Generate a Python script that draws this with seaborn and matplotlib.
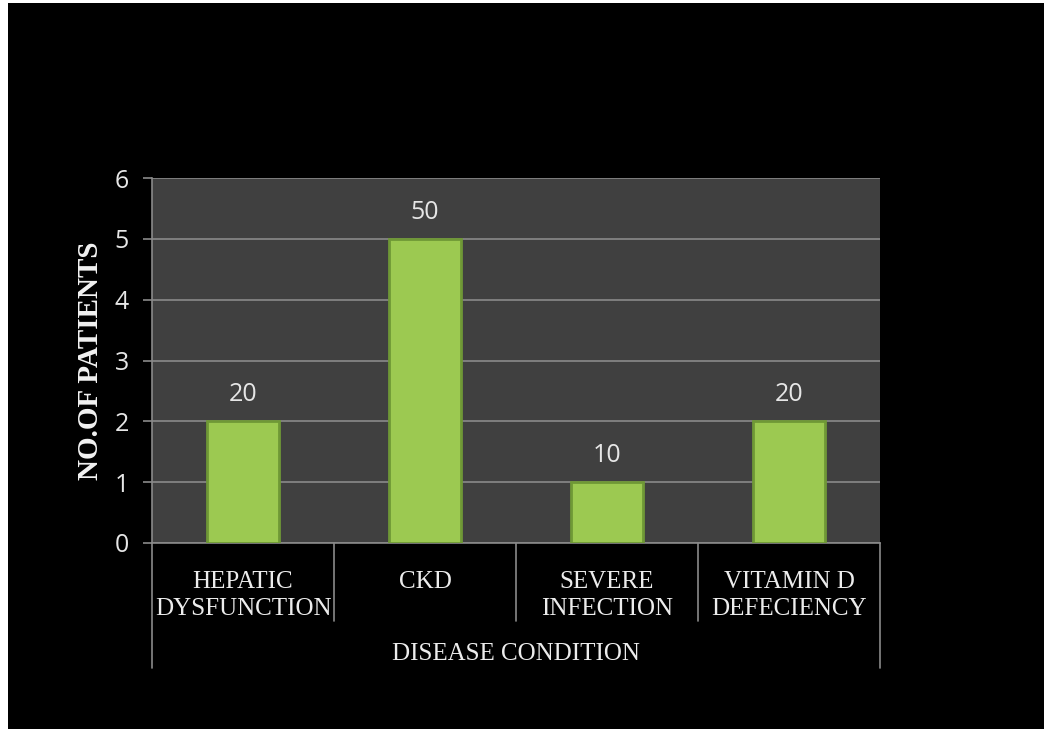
import numpy as np
import pandas as pd
import seaborn as sns
import matplotlib.pyplot as plt
from matplotlib.patches import Rectangle
from matplotlib.transforms import blended_transform_factory

# data
conditions = ["HEPATIC\nDYSFUNCTION", "CKD", "SEVERE\nINFECTION", "VITAMIN D\nDEFECIENCY"]
patients = [2, 5, 1, 2]
value_labels = ["20", "50", "10", "20"]
y_ticks = [0, 1, 2, 3, 4, 5, 6]

df = pd.DataFrame({"condition": conditions, "patients": patients})

sns.set_style("dark")
plt.rcParams["font.family"] = ["DejaVu Sans"]

fig = plt.figure(figsize=(10.44, 7.29), dpi=100, facecolor="black")
ax = fig.add_axes([152 / 1044, 1 - 543 / 729, (880 - 152) / 1044, (543 - 178) / 729])
ax.set_facecolor("#404040")

sns.barplot(data=df, x="condition", y="patients", color="#9cc951", width=0.4,
            saturation=1, edgecolor="#6f9836", linewidth=2, ax=ax, zorder=3)

ax.bar_label(ax.containers[0], labels=value_labels, padding=10, color="#e6e6e6",
             fontsize=18, family="Open Sans")

ax.set_ylim(0, 6)
ax.set_xlim(-0.5, 3.5)
ax.set_yticks(y_ticks)
ax.grid(axis="y", color="#8a8a8a", linewidth=1.2, zorder=0)
ax.grid(axis="x", visible=False)
ax.set_axisbelow(True)

for s in ["top", "right"]:
    ax.spines[s].set_visible(False)
for s in ["left", "bottom"]:
    ax.spines[s].set_color("#8a8a8a")
    ax.spines[s].set_linewidth(1.2)

ax.tick_params(axis="y", left=True, length=6.5, width=1.2, color="#8a8a8a", pad=10,
               labelsize=18, labelcolor="#e6e6e6")
for t in ax.get_yticklabels():
    t.set_family("Open Sans")
ax.tick_params(axis="x", bottom=False, pad=17, labelsize=18, labelcolor="#ececec")
for t in ax.get_xticklabels():
    t.set_family("Liberation Serif")
    t.set_linespacing(1.25)
    t.set_multialignment("center")

ax.set_xlabel("DISEASE CONDITION", family="Liberation Serif", fontsize=18,
              color="#ececec", labelpad=17)
ax.set_ylabel("NO.OF PATIENTS", family="Liberation Serif", fontsize=21,
              fontweight="bold", color="#f2f2f2", labelpad=8)

# category separators below the axis
trans = blended_transform_factory(ax.transData, ax.transAxes)
for i, xb in enumerate(np.arange(-0.5, len(conditions))):
    outer = i in (0, len(conditions))
    ax.plot([xb, xb], [0, -0.343 if outer else -0.214], color="#8a8a8a",
            linewidth=1.2, transform=trans, clip_on=False)

# thin white margins from the original screenshot
fig.patches.append(Rectangle((0, 0), 8 / 1044, 1, transform=fig.transFigure,
                             facecolor="white", edgecolor="none"))
fig.patches.append(Rectangle((0, 1 - 3 / 729), 1, 3 / 729, transform=fig.transFigure,
                             facecolor="white", edgecolor="none"))

fig.savefig("out.png", dpi=100, facecolor="black")
